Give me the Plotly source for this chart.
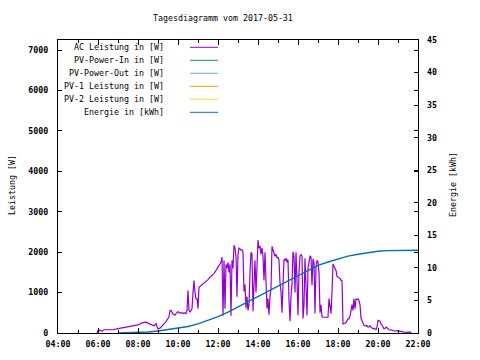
import plotly.graph_objects as go

DAY = "2017-05-31 "

# AC Leistung in [W]
ac_times = ["05:57","06:00","06:06","06:12","06:18","06:30","06:45","07:00","07:15","07:30","07:45",
            "08:00","08:12","08:24","08:36","08:48","08:54","09:00","09:06","09:15","09:24","09:33",
            "09:36","09:39","09:42","09:45","09:48","09:51","09:54","09:57","10:00","10:03","10:06",
            "10:09","10:12","10:15","10:18","10:21","10:24","10:27","10:30","10:33","10:36","10:39",
            "10:42","10:45","10:48","10:51","10:54","10:57","11:00","11:03","11:06","11:12","11:18",
            "11:24","11:30","11:36","11:42","11:48","11:54","12:00","12:03","12:06","12:09","12:12",
            "12:15","12:18","12:21","12:24","12:27","12:30","12:33","12:36","12:39","12:42","12:45",
            "12:48","12:51","12:54","12:57","13:00","13:03","13:06","13:09","13:12","13:15","13:18",
            "13:21","13:24","13:27","13:30","13:33","13:36","13:39","13:42","13:45","13:48","13:51",
            "13:54","13:57","14:00","14:03","14:06","14:09","14:12","14:15","14:18","14:21","14:24",
            "14:27","14:30","14:33","14:36","14:39","14:42","14:45","14:48","14:51","14:54","14:57",
            "15:00","15:03","15:06","15:09","15:12","15:15","15:18","15:21","15:24","15:27","15:30",
            "15:33","15:36","15:39","15:42","15:45","15:48","15:51","15:54","15:57","16:00","16:03",
            "16:06","16:09","16:12","16:15","16:18","16:21","16:24","16:27","16:30","16:33","16:36",
            "16:39","16:42","16:45","16:48","16:51","16:54","16:57","17:00","17:03","17:06","17:09",
            "17:12","17:15","17:18","17:21","17:24","17:27","17:30","17:33","17:36","17:39","17:42",
            "17:45","17:48","17:51","17:54","17:57","18:00","18:03","18:06","18:09","18:12","18:15",
            "18:18","18:21","18:24","18:27","18:30","18:33","18:36","18:39","18:42","18:45","18:48",
            "18:51","18:54","18:57","19:00","19:03","19:06","19:09","19:12","19:15","19:18","19:21",
            "19:24","19:27","19:30","19:33","19:36","19:39","19:42","19:45","19:48","19:51","19:54",
            "19:57","20:00","20:03","20:06","20:09","20:12","20:15","20:18","20:21","20:24","20:27",
            "20:30","20:33","20:36","20:39","20:45","20:51","21:00","21:06","21:12","21:18","21:24",
            "21:30","21:36","21:40"]
ac_values = [0,60,70,40,80,75,80,110,130,150,180,
             200,250,270,220,180,230,100,120,200,280,400,
             550,560,500,470,450,440,480,520,530,500,490,
             510,500,480,500,490,480,560,1050,560,520,560,
             600,1000,1300,1000,850,850,600,1130,1150,1180,1220,
             1280,1320,1380,1420,1470,1550,1630,1650,1680,1750,1880,
             430,1800,600,1700,1600,1750,1500,1700,430,1800,1600,
             2170,2100,1900,900,1950,2100,2080,2050,2060,2000,1030,
             1200,610,900,560,700,1500,2000,1950,540,1200,1800,
             1000,1900,2300,2100,2150,1950,2100,1900,1300,2000,1100,
             600,850,450,900,1100,2140,2050,2000,1900,1950,1850,
             1880,1800,1250,1030,500,1400,1820,1800,1850,1750,1820,
             800,290,900,1200,2010,1900,1000,2000,1300,440,1500,
             1900,1940,1900,360,700,1850,1200,440,1600,1760,1900,
             1880,1180,1830,1750,480,1650,1800,1750,1500,500,700,
             400,390,390,400,390,400,390,850,700,480,1000,
             1710,1650,1600,1550,1400,1380,1380,1350,1300,1300,225,
             225,240,260,300,350,350,420,555,700,560,845,
             600,840,830,845,800,700,370,300,225,185,185,
             170,185,145,150,180,145,110,105,120,90,80,
             140,310,300,290,225,200,145,105,110,145,130,
             90,80,75,80,60,50,60,45,20,20,15,
             20,25,0]

# Energie in [kWh]
en_times = ["07:00","07:30","08:00","08:30","09:00","09:30","10:00","10:30","11:00","11:30",
            "12:00","12:30","13:00","13:30","14:00","14:30","15:00","15:30","16:00","16:30",
            "17:00","17:30","18:00","18:30","19:00","19:30","20:00","20:30","21:00","21:30","22:00"]
en_values = [0,0.02,0.05,0.15,0.3,0.5,0.75,1.0,1.4,1.9,
             2.5,3.2,4.0,4.8,5.5,6.3,7.1,7.9,8.8,9.6,
             10.4,10.9,11.4,11.8,12.1,12.35,12.55,12.65,12.7,12.72,12.72]

legend_labels = ["AC Leistung in [W]", "PV-Power-In in [W]", "PV-Power-Out in [W]",
                 "PV-1 Leistung in [W]", "PV-2 Leistung in [W]", "Energie in [kWh]"]
legend_colors = ["#9400d3", "#009e73", "#56b4e9", "#e69f00", "#f0e442", "#0072b2"]

title_text = "Tagesdiagramm vom 2017-05-31"
y_title = "Leistung [W]"
y2_title = "Energie [kWh]"

FONT = "DejaVu Sans Mono"

fig = go.Figure()
fig.add_trace(go.Scatter(x=[DAY + t for t in ac_times], y=ac_values, mode="lines",
                         line=dict(color=legend_colors[0], width=1.2), showlegend=False))
fig.add_trace(go.Scatter(x=[DAY + t for t in en_times], y=en_values, mode="lines", yaxis="y2",
                         line=dict(color=legend_colors[5], width=1.4), showlegend=False))

W, H = 480, 360
L, R, T, B = 58, 62, 40, 27
pw, ph = W - L - R, H - T - B

def px(x):
    return (x - L) / pw

def py(y):
    return (H - B - y) / ph

ann = []
shapes = []
row_y = [47.3, 60.3, 73.3, 86.3, 99.3, 112.3]
for lab, col, yy in zip(legend_labels, legend_colors, row_y):
    ann.append(dict(x=px(166), y=py(yy), xref="paper", yref="paper", text=lab, showarrow=False,
                    xanchor="right", yanchor="middle", font=dict(family=FONT, size=8.3, color="black")))
    shapes.append(dict(type="line", xref="paper", yref="paper", x0=px(190), x1=px(218),
                       y0=py(yy), y1=py(yy), line=dict(color=col, width=1)))

ann.append(dict(x=px(223), y=py(18), xref="paper", yref="paper", text=title_text, showarrow=False,
                xanchor="center", yanchor="middle", font=dict(family=FONT, size=8.3, color="black")))
ann.append(dict(x=px(12), y=py(185), xref="paper", yref="paper", text=y_title, showarrow=False,
                textangle=-90, xanchor="center", yanchor="middle",
                font=dict(family=FONT, size=8.3, color="black")))
ann.append(dict(x=px(453), y=py(185), xref="paper", yref="paper", text=y2_title, showarrow=False,
                textangle=-90, xanchor="center", yanchor="middle",
                font=dict(family=FONT, size=8.3, color="black")))

tickfont = dict(family=FONT, size=8.3, color="black", weight="bold")

fig.update_layout(
    width=W, height=H, margin=dict(l=L, r=R, t=T, b=B, autoexpand=False),
    paper_bgcolor="white", plot_bgcolor="white",
    showlegend=False, annotations=ann, shapes=shapes,
    xaxis=dict(type="date", range=[DAY + "04:00", DAY + "22:00"], dtick=7200000,
               tick0=DAY + "04:00", tickformat="%H:%M", ticks="inside", ticklen=5,
               tickcolor="black", showgrid=False, zeroline=False, showline=True,
               linecolor="black", linewidth=1, mirror="ticks", tickfont=tickfont,
               ticklabelstandoff=3,
               minor=dict(dtick=3600000, ticks="inside", ticklen=3, tickcolor="black", showgrid=False)),
    yaxis=dict(range=[0, 7250], dtick=1000, ticks="inside", ticklen=4, tickcolor="black",
               showgrid=False, zeroline=False, showline=True, linecolor="black", linewidth=1,
               mirror="ticks", tickfont=tickfont, ticklabelstandoff=7),
    yaxis2=dict(range=[0, 45], dtick=5, overlaying="y", side="right", anchor="x",
                ticks="inside", ticklen=4, tickcolor="black", showgrid=False, zeroline=False,
                showline=False, tickfont=tickfont, ticklabelstandoff=8),
)

fig.write_html("out.html", config={"displayModeBar": False},
               post_script="document.body.style.margin='0';document.body.style.padding='0';")
